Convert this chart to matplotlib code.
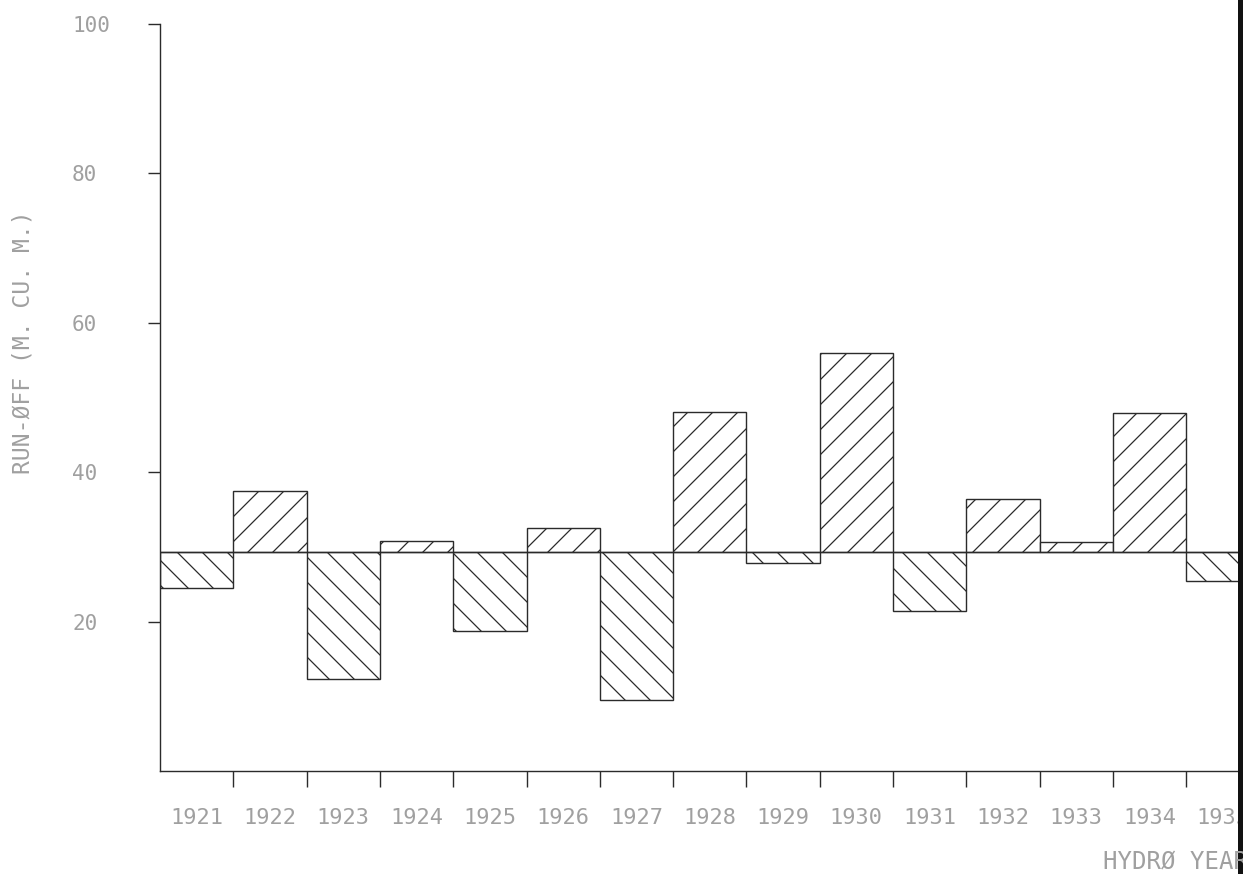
import matplotlib
matplotlib.use("Agg")
import matplotlib.pyplot as plt
from matplotlib.patches import Rectangle
import numpy as np

# yearly run-off, million cubic metres
years = ["1921", "1922", "1923", "1924", "1925", "1926", "1927", "1928",
         "1929", "1930", "1931", "1932", "1933", "1934", "1935"]
runoff = [24.5, 37.5, 12.4, 30.8, 18.8, 32.5, 9.5, 48.1,
          27.8, 55.9, 21.4, 36.4, 30.6, 47.9, 25.4]
mean_runoff = 29.3
yticks = [20, 40, 60, 80, 100]

# hatch tiles are one inch wide, so the dpi sets the hatch spacing
DPI = 75
W, H = 1243, 874


def pt(px):
    # pixel size -> points at the chosen dpi
    return px * 72.0 / DPI


ink = "#2b2b2b"
text_col = "#a0a0a0"
plt.rcParams["hatch.linewidth"] = pt(1.25)
plt.rcParams["hatch.color"] = ink
plt.rcParams["font.family"] = "DejaVu Sans Mono"

fig = plt.figure(figsize=(W / DPI, H / DPI), dpi=DPI)
# axes runs off the right side of the sheet, as on the plotter output
ax = fig.add_axes([160 / W, 1 - 771.2 / H, 15 * 73.3 / W, 747.5 / H])
ax.set_xlim(0, 15)
ax.set_ylim(0, 100)

x = np.arange(len(years))
dev = np.array(runoff) - mean_runoff
for xi, d in zip(x, dev):
    ax.bar(xi, d, bottom=mean_runoff, width=1.0, align="edge",
           facecolor="white", edgecolor=ink, linewidth=pt(1.4),
           hatch="/" if d >= 0 else "\\", zorder=2)
ax.axhline(mean_runoff, color=ink, linewidth=pt(1.4), zorder=3)

for s in ["top", "right"]:
    ax.spines[s].set_visible(False)
for s in ["left", "bottom"]:
    ax.spines[s].set_color(ink)
    ax.spines[s].set_linewidth(pt(1.4))
ax.spines["left"].set_bounds(0, 100)

ax.set_yticks(yticks)
ax.set_yticklabels([str(v) for v in yticks])
ax.tick_params(axis="y", direction="out", length=pt(12), width=pt(1.4),
               color=ink, labelcolor=text_col, labelsize=pt(21), pad=pt(76))
for t in ax.get_yticklabels():
    t.set_ha("left")

# boundaries between years carry the ticks, names sit under each bar
ax.set_xticks(np.arange(1, 15))
ax.set_xticklabels([])
ax.set_xticks(x + 0.5, minor=True)
ax.set_xticklabels(years, minor=True)
ax.tick_params(axis="x", which="major", direction="out", length=pt(16),
               width=pt(1.4), color=ink)
ax.tick_params(axis="x", which="minor", length=0, pad=pt(37),
               labelcolor=text_col, labelsize=pt(22))

fig.text(23 / W, 1 - 342 / H, "RUN-ØFF (M. CU. M.)", rotation=90,
         ha="center", va="center", color=text_col, fontsize=pt(23))
fig.text(1103 / W, 1 - 861 / H, "HYDRØ YEAR", ha="left", va="center",
         color=text_col, fontsize=pt(24))

# dark scanner edge down the right side
fig.patches.append(Rectangle((1238 / W, 0), 6 / W, 1, transform=fig.transFigure,
                             facecolor="#111111", edgecolor="none"))

fig.savefig("out.png", dpi=DPI)
